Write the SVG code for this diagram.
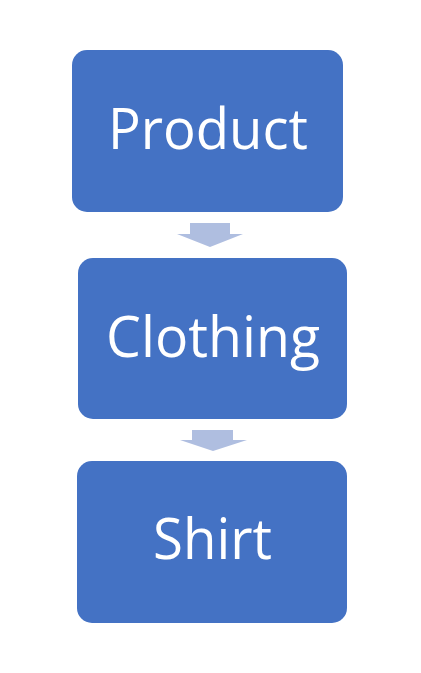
<svg xmlns="http://www.w3.org/2000/svg" width="421" height="673" viewBox="0 0 421 673">
<style>
.box{fill:#4472C4;}
.lbl{fill:#FFFFFF;font-family:"Open Sans","Noto Sans","Liberation Sans",sans-serif;font-size:57px;text-anchor:start;}
.arr{fill:#AFBEE0;}
</style>
<rect width="421" height="673" fill="#FFFFFF"/>
<g id="connectors">
<polygon class="arr" points="190,223 230,223 230,234 243,234 210,247 177,234 190,234"/>
<polygon class="arr" points="192,430 233,430 233,440 247,440 213,451 180,440 192,440"/>
</g>
<g id="node-product">
<rect class="box" x="72" y="50" width="271" height="162" rx="15" ry="15"/>
<text class="lbl" x="108" y="149" textLength="200" lengthAdjust="spacingAndGlyphs">Product</text>
</g>
<g id="node-clothing">
<rect class="box" x="78" y="258" width="269" height="161" rx="15" ry="15"/>
<text class="lbl" x="106" y="357" textLength="214" lengthAdjust="spacingAndGlyphs">Clothing</text>
</g>
<g id="node-shirt">
<rect class="box" x="77" y="461" width="270" height="162" rx="15" ry="15"/>
<text class="lbl" x="153" y="559" textLength="119" lengthAdjust="spacingAndGlyphs">Shirt</text>
</g>
</svg>
